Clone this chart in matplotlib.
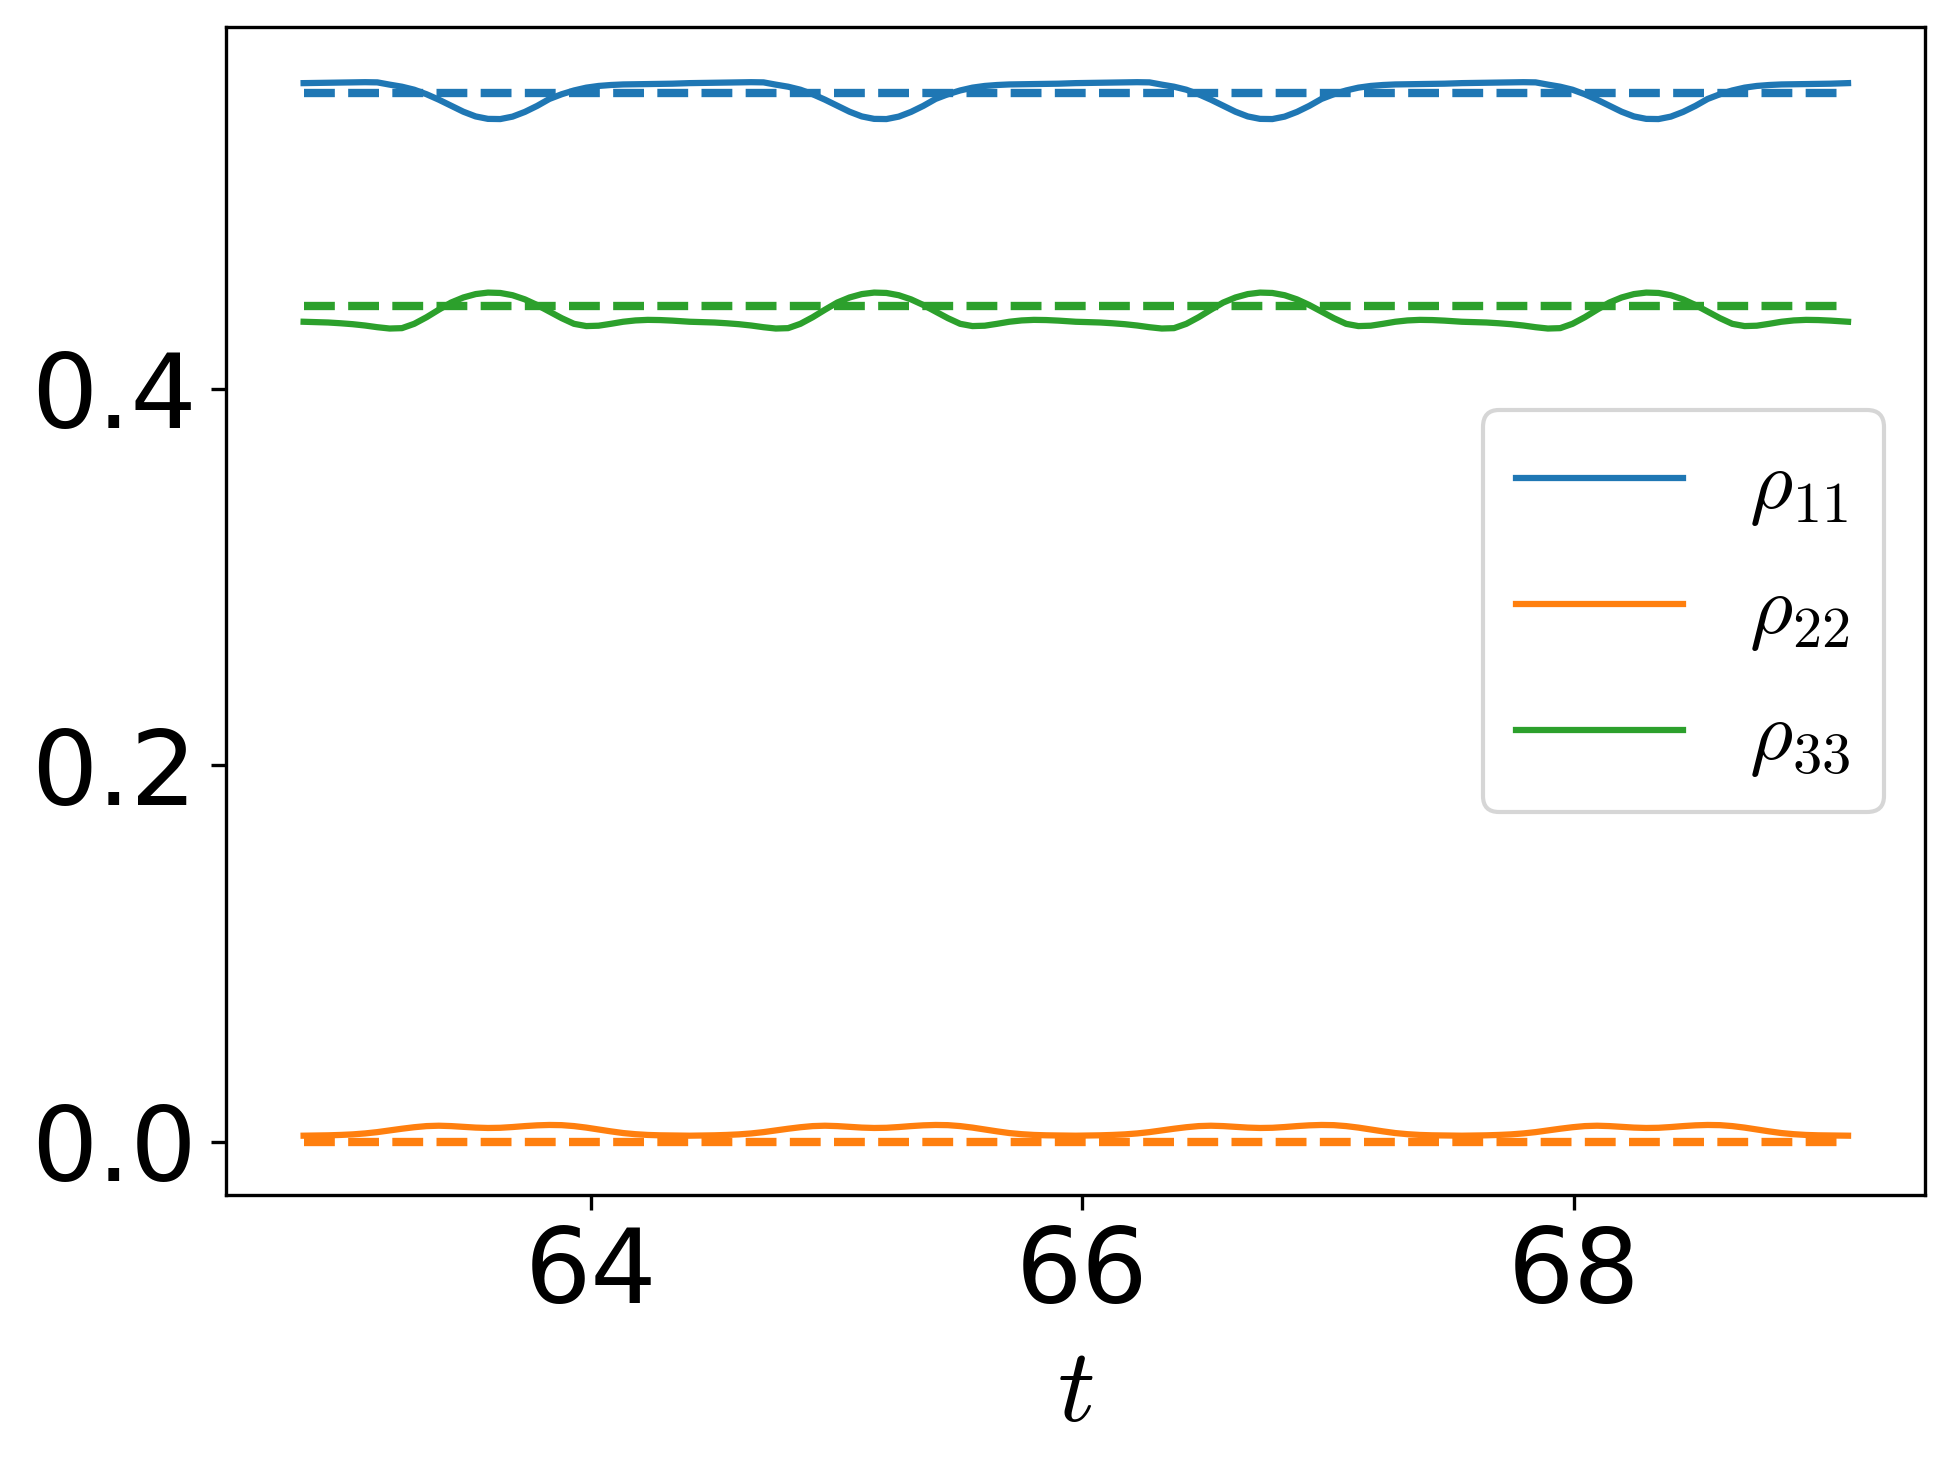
import matplotlib
matplotlib.use("Agg")
import matplotlib.pyplot as plt

plt.rcParams['mathtext.fontset'] = 'cm'

# Read-off values: the solution repeats with period ~pi/2, so one period is
# read from the picture and the curve is laid out at the start of each period.
period_starts = [62.832, 64.403, 65.973, 67.544]
t_end = 69.115
u_offsets = [0.00, 0.05, 0.10, 0.15, 0.20, 0.25, 0.30, 0.35, 0.40, 0.45, 0.50, 0.55, 0.60, 0.65, 0.70, 0.75,
             0.80, 0.85, 0.90, 0.95, 1.00, 1.05, 1.10, 1.15, 1.20, 1.25, 1.30, 1.35, 1.40, 1.45, 1.50, 1.55]

rho11_period = [0.5624, 0.5625, 0.5626, 0.5627, 0.5628, 0.5629, 0.5628, 0.5616, 0.5605, 0.5589, 0.5565, 0.5536,
                0.5504, 0.5472, 0.5447, 0.5434, 0.5433, 0.5446, 0.5471, 0.5503, 0.5540, 0.5565, 0.5585, 0.5600,
                0.5609, 0.5614, 0.5617, 0.5618, 0.5619, 0.5620, 0.5621, 0.5623]
rho22_period = [0.0031, 0.0032, 0.0033, 0.0035, 0.0038, 0.0043, 0.0050, 0.0059, 0.0068, 0.0076, 0.0082, 0.0084,
                0.0082, 0.0078, 0.0074, 0.0072, 0.0073, 0.0077, 0.0082, 0.0086, 0.0088, 0.0087, 0.0082, 0.0074,
                0.0064, 0.0054, 0.0045, 0.0039, 0.0035, 0.0033, 0.0032, 0.0031]
rho33_period = [0.4356, 0.4354, 0.4352, 0.4348, 0.4343, 0.4336, 0.4327, 0.4320, 0.4322, 0.4345, 0.4380, 0.4420,
                0.4458, 0.4485, 0.4503, 0.4511, 0.4509, 0.4497, 0.4475, 0.4445, 0.4410, 0.4375, 0.4345, 0.4333,
                0.4335, 0.4345, 0.4356, 0.4363, 0.4366, 0.4365, 0.4362, 0.4358]
end_values = [0.5624, 0.0031, 0.4356]

# steady-state values (dashed)
steady = [0.5574, 0.0000, 0.4442]

labels = [r'$\rho_{11}$', r'$\rho_{22}$', r'$\rho_{33}$']
colors = ['#1f77b4', '#ff7f0e', '#2ca02c']
xticks = [64, 66, 68]
yticks = [0.0, 0.2, 0.4]

t = [s + u for s in period_starts for u in u_offsets] + [t_end]
series_list = []
for prof, endv in zip([rho11_period, rho22_period, rho33_period], end_values):
    series_list.append(prof * len(period_starts) + [endv])

fig = plt.figure(figsize=(1954 / 300, 1474 / 300), dpi=300)
ax = fig.add_axes([0.1155, 0.1893, 0.8699, 0.7921])

for series, lab, c in zip(series_list, labels, colors):
    ax.plot(t, series, color=c, lw=1.5, label=lab)
for s, c in zip(steady, colors):
    ax.plot([t[0], t[-1]], [s, s], color=c, lw=2.0, ls='--')

ax.set_xlim(62.515, 69.43)
ax.set_ylim(-0.0284, 0.592)
ax.set_xticks(xticks)
ax.set_xticklabels([str(x) for x in xticks])
ax.set_yticks(yticks)
ax.set_yticklabels([f'{y:.1f}' for y in yticks])
ax.tick_params(labelsize=25)
ax.set_xlabel(r'$t$', fontsize=25)
ax.legend(loc='center right', fontsize=20)

fig.savefig('out.png', dpi=300)
